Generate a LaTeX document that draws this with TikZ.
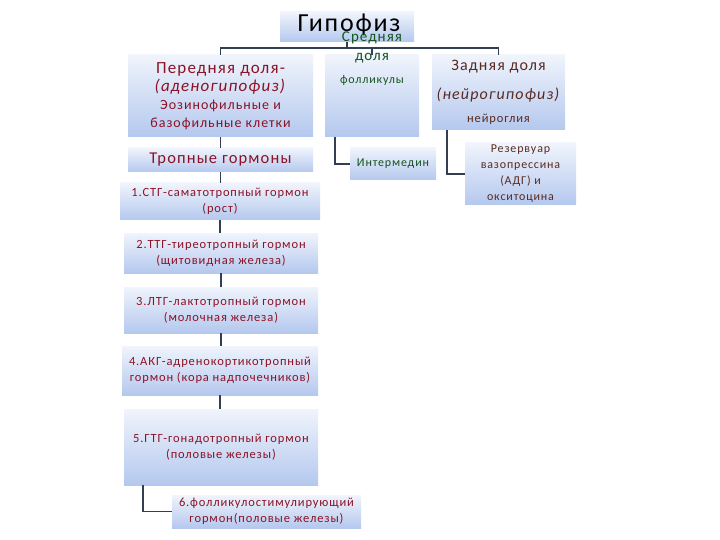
\documentclass[tikz,border=0pt]{standalone}
\usepackage{fontspec}
\setmainfont{Carlito}[LetterSpace=7]
\definecolor{boxtop}{RGB}{240,244,252}
\definecolor{boxbot}{RGB}{180,200,238}
\definecolor{linkcol}{RGB}{50,62,82}
\definecolor{antcol}{RGB}{140,18,38}
\definecolor{midcol}{RGB}{20,85,30}
\definecolor{postcol}{RGB}{90,42,32}
\tikzset{
  box/.style={shade,top color=boxtop,bottom color=boxbot,inner sep=1pt,align=center},
  link/.style={draw=linkcol,line width=1.8pt},
  hormone/.style={box,text=antcol,font=\fontsize{12.5}{16}\selectfont}
}
\begin{document}
\begin{tikzpicture}[x=1pt,y=-1pt]
  \useasboundingbox (0,0) rectangle (720,540);

  \node[box,minimum width=134,minimum height=30] (hyp) at (347,27) {};
  \node[box,minimum width=185,minimum height=82,text=antcol,font=\fontsize{17}{18}\selectfont] (ant) at (220.5,96)
    {Передняя доля-\\
     \textit{(аденогипофиз)}\\
     {\fontsize{14}{18}\selectfont Эозинофильные и}\\
     {\fontsize{14}{18}\selectfont базофильные клетки}};
  \node[box,minimum width=94,minimum height=82] (mid) at (372,96) {};
  \node[box,minimum width=133,minimum height=75,text=postcol,font=\fontsize{16}{18}\selectfont] (post) at (498.5,92.5)
    {Задняя доля\\[11pt]
     \textit{(нейрогипофиз)}\\[5pt]
     {\fontsize{12.5}{15}\selectfont нейроглия}};

  \coordinate (bus) at (347,48);
  \draw[link] (hyp.south) -- (hyp.south |- bus);
  \draw[link] (ant.north) -- (ant.north |- bus) -- (post.north |- bus) -- (post.north);
  \draw[link] (mid.north) -- (mid.north |- bus);

  \node[font=\fontsize{26}{28}\selectfont] (hyptext) at (349,25) {Гипофиз};
  \node[text=midcol,align=center,font=\fontsize{15}{19}\selectfont] (midhead) at (372,47) {Средняя\\доля};
  \node[text=midcol,font=\fontsize{12}{14}\selectfont] (foll) at (372,80) {фолликулы};

  \node[box,minimum width=185,minimum height=24,text=antcol,font=\fontsize{16.5}{18}\selectfont] (trop) at (220.5,160) {Тропные гормоны};
  \node[box,minimum width=86,minimum height=32,text=midcol,font=\fontsize{12}{15}\selectfont] (inter) at (393,164) {Интермедин};
  \node[box,minimum width=111,minimum height=62,text=postcol,font=\fontsize{12}{16}\selectfont] (res) at (520.5,174)
    {Резервуар\\вазопрессина\\(АДГ) и\\окситоцина};

  \node[hormone,minimum width=200,minimum height=37] (h1) at (220,201.5) {1.СТГ-саматотропный гормон\\(рост)};
  \node[hormone,minimum width=194,minimum height=40] (h2) at (221,253) {2.ТТГ-тиреотропный гормон\\(щитовидная железа)};
  \node[hormone,minimum width=194,minimum height=46] (h3) at (221,310) {3.ЛТГ-лактотропный гормон\\(молочная железа)};
  \node[hormone,minimum width=196,minimum height=49] (h4) at (220,370.5) {4.АКГ-адренокортикотропный\\гормон (кора надпочечников)};
  \node[hormone,minimum width=194,minimum height=76] (h5) at (221,447) {5.ГТГ-гонадотропный гормон\\(половые железы)};
  \node[hormone,minimum width=189,minimum height=33] (h6) at (266.5,511.5) {6.фолликулостимулирующий\\гормон(половые железы)};

  \draw[link] (ant.south) -- (ant.south |- trop.north);
  \draw[link] (trop.south) -- (trop.south |- h1.north);
  \draw[link] (h1.south) -- (h1.south |- h2.north);
  \draw[link] (h2.south) -- (h2.south |- h3.north);
  \draw[link] (h3.south) -- (h3.south |- h4.north);
  \draw[link] (h4.south) -- (h4.south |- h5.north);
  \draw[link] ([xshift=-37]mid.south) |- (inter.west);
  \draw[link] ([xshift=-51.5]post.south) |- (res.west);
  \draw[link] ([xshift=-78]h5.south) |- (h6.west);
\end{tikzpicture}
\end{document}
